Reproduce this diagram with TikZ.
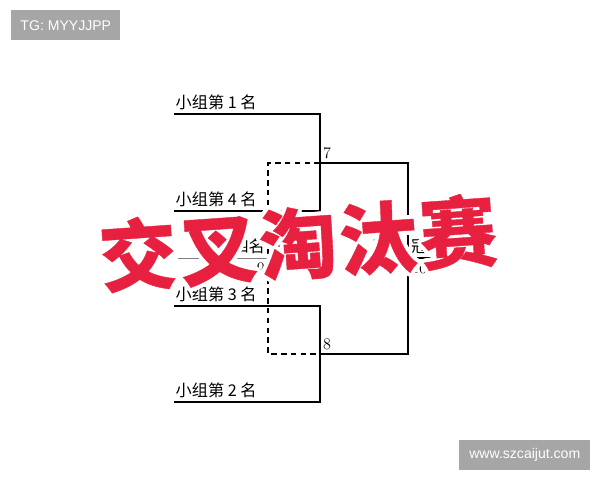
\documentclass[tikz,border=0pt]{standalone}
\usepackage{fontspec}
\newfontfamily\cjk{Noto Sans CJK SC}
\newfontfamily\cjkheavy{Noto Sans CJK SC}[BoldFeatures={FakeBold=0.5}]
\newfontfamily\wmfont{Liberation Sans}
\usepackage{xcolor}
\usetikzlibrary{calc, positioning}
\definecolor{stamp}{HTML}{E8203F}
\definecolor{wmgray}{HTML}{A6A6A6}

\begin{document}
\begin{tikzpicture}[x = 0.025cm, y = -0.025cm,
  team/.style = {font = \cjk\fontsize{11.5}{13}\selectfont, inner sep = 0pt},
  num/.style = {font = \fontsize{11.5}{13}\selectfont, inner sep = 0pt},
  wire/.style = {line width = .8pt},
  loser/.style = {line width = .8pt, dash pattern = on 4pt off 3pt},
  wm/.style = {fill = wmgray, text = white, font = \wmfont\fontsize{10}{12}\selectfont, minimum height = .75cm, inner sep = 0pt},
  big/.style = {font = \cjkheavy\bfseries\fontsize{55}{60}\selectfont, rotate = 4, inner sep = 0pt}]
\useasboundingbox (0,0) rectangle (600,480);
\coordinate (g1) at (174,114);
\coordinate (g4) at (174,211);
\coordinate (g3) at (174,306);
\coordinate (g2) at (174,402);
\coordinate (m7a) at (320,114);
\coordinate (m7b) at (320,211);
\coordinate (m7) at (320,163);
\coordinate (m8a) at (320,306);
\coordinate (m8b) at (320,402);
\coordinate (m8) at (320,354);
\coordinate (f7) at (408,163);
\coordinate (f8) at (408,354);
\coordinate (m10) at (408,258);
\coordinate (win) at (440,258);
\coordinate (l7) at (268,163);
\coordinate (l8) at (268,354);
\coordinate (m9) at (268,258);
\coordinate (third) at (178,258);
\node[team, above right = 3pt and 1pt of g1] (t1) {小组第 1 名};
\node[team, above right = 3pt and 1pt of g4] (t4) {小组第 4 名};
\node[team, above right = 3pt and 1pt of g3] (t3) {小组第 3 名};
\node[team, above right = 3pt and 1pt of g2] (t2) {小组第 2 名};
\node[num, above right = 3pt and 2pt of m7] (n7) {7};
\node[num, above right = 3pt and 2pt of m8] (n8) {8};
\node[num, below left = 3pt and 2pt of m9] (n9) {9};
\node[num, below right = 3pt and 2pt of m10] (n10) {10};
\node[team, above left = 3pt and 2pt of m9] (fourth) {第四名};
\node[team, above right = 3pt and 2pt of m9] (bronze) {第三名};
\node[team, above left = 3pt and 2pt of m10] (silver) {亚军};
\node[team, above right = 3pt and 2pt of m10] (gold) {冠军};
\draw[wire] (g1) -- (m7a) -- (m7b) -- (g4);
\draw[wire] (g3) -- (m8a) -- (m8b) -- (g2);
\draw[wire] (m7) -- (f7) -- (f8) -- (m8);
\draw[wire] (m10) -- (win);
\draw[loser] (m7) -- (l7) -- (l8) -- (m8);
\draw[line width = .6pt, gray] (third) -- (m9);
\foreach \a in {0,20,...,340}
  \node[big, text = white] (halo\a) at ($(298,243)+(\a:4)$) {交\hspace{2pt}叉\hspace{2pt}淘\hspace{2pt}汰\hspace{2pt}赛};
\node[big, text = stamp] (title) at (298,243) {交\hspace{2pt}叉\hspace{2pt}淘\hspace{2pt}汰\hspace{2pt}赛};
\node[wm, minimum width = 2.725cm, anchor = north west] (tg) at (11,10) {TG: MYYJJPP};
\node[wm, minimum width = 3.275cm, anchor = north west] (site) at (459,440) {www.szcaijut.com};
\end{tikzpicture}
\end{document}
